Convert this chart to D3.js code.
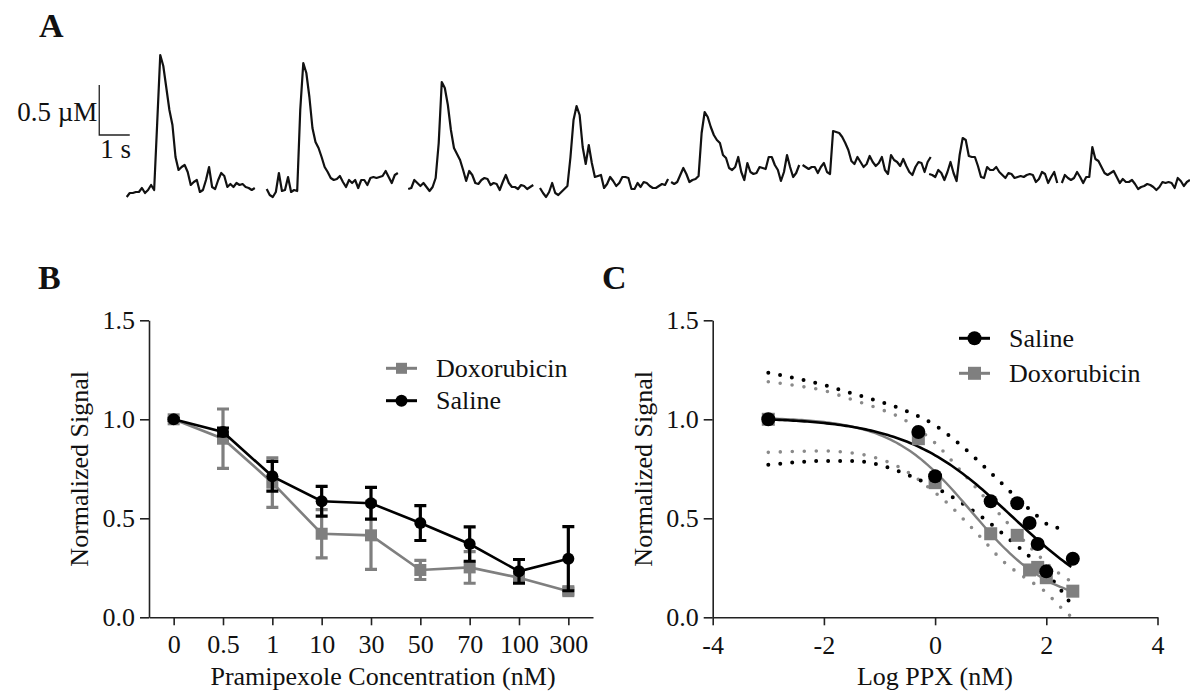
<!DOCTYPE html>
<html>
<head>
<meta charset="utf-8">
<script src="https://cdn.jsdelivr.net/npm/d3@7"></script>
<style>
  body { margin: 0; background: #fff; }
  svg { display: block; }
</style>
</head>
<body>
<div id="chart"></div>
<script>
// ---- Panel A: calcium traces (uM, sampled at 10 Hz) ----
const traceStarts = [0, 4.59, 9.23, 13.55, 17.85, 22.16, 26.31, 30.66]; // s
const trace1 = [0.03,0.07,0.07,0.08,0.08,0.12,0.07,0.10,0.15,0.10,0.77,1.45,1.34,1.12,0.90,0.75,0.43,0.30,0.33,0.35,0.28,0.15,0.18,0.20,0.08,0.10,0.20,0.33,0.13,0.11,0.20,0.27,0.24,0.13,0.16,0.13,0.17,0.15,0.16,0.13,0.12,0.10,0.12];
const trace2 = [0.11,0.05,0.03,0.08,0.27,0.09,0.10,0.23,0.08,0.10,0.09,0.90,1.37,1.27,1.03,0.72,0.58,0.52,0.43,0.33,0.28,0.22,0.20,0.21,0.24,0.18,0.13,0.20,0.17,0.20,0.12,0.20,0.20,0.15,0.22,0.23,0.22,0.23,0.24,0.29,0.23,0.17,0.25,0.27];
const trace3 = [0.11,0.12,0.20,0.17,0.14,0.17,0.13,0.09,0.13,0.22,0.57,1.18,1.12,0.95,0.70,0.52,0.46,0.40,0.30,0.19,0.29,0.25,0.17,0.16,0.20,0.22,0.21,0.15,0.17,0.16,0.10,0.18,0.25,0.17,0.13,0.13,0.11,0.15,0.14,0.11,0.13,0.15];
const trace4 = [0.12,0.07,0.03,0.08,0.17,0.07,0.05,0.08,0.11,0.14,0.43,0.80,0.94,0.85,0.53,0.36,0.55,0.37,0.23,0.24,0.25,0.12,0.16,0.23,0.19,0.14,0.17,0.23,0.23,0.22,0.11,0.11,0.17,0.13,0.18,0.17,0.14,0.12,0.12,0.14,0.16,0.15,0.21];
const trace5 = [0.18,0.16,0.18,0.25,0.32,0.26,0.18,0.20,0.21,0.24,0.67,0.88,0.83,0.73,0.65,0.60,0.57,0.45,0.42,0.32,0.30,0.33,0.43,0.28,0.20,0.37,0.28,0.26,0.27,0.33,0.32,0.31,0.43,0.43,0.35,0.30,0.19,0.28,0.45,0.33,0.23,0.27,0.35];
const trace6 = [0.35,0.33,0.31,0.33,0.33,0.27,0.33,0.37,0.28,0.26,0.69,0.68,0.67,0.63,0.57,0.50,0.39,0.36,0.43,0.38,0.33,0.36,0.44,0.38,0.34,0.37,0.43,0.30,0.26,0.45,0.40,0.38,0.34,0.41,0.34,0.28,0.25,0.33,0.38,0.37,0.28,0.38,0.43];
const trace7 = [0.26,0.25,0.23,0.30,0.27,0.20,0.28,0.38,0.27,0.19,0.45,0.62,0.60,0.44,0.43,0.43,0.34,0.23,0.22,0.33,0.30,0.30,0.33,0.28,0.25,0.22,0.27,0.26,0.22,0.23,0.24,0.23,0.25,0.26,0.25,0.18,0.21,0.28,0.26,0.17,0.23,0.28,0.17];
const trace8 = [0.17,0.25,0.22,0.20,0.22,0.28,0.23,0.17,0.23,0.23,0.53,0.41,0.39,0.33,0.27,0.25,0.27,0.29,0.23,0.17,0.21,0.18,0.18,0.20,0.16,0.11,0.13,0.14,0.16,0.15,0.13,0.10,0.13,0.18,0.17,0.18,0.17,0.12,0.22,0.19,0.14,0.18,0.20];
const traces = [trace1, trace2, trace3, trace4, trace5, trace6, trace7, trace8];
const sampleDt = 0.1;

// ---- Panel B: normalized signal vs pramipexole ----
const concLabels = ['0', '0.5', '1', '10', '30', '50', '70', '100', '300'];
const salineMean = [1.0, 0.936, 0.712, 0.586, 0.576, 0.476, 0.37, 0.232, 0.296];
const salineSem  = [0.005, 0.02, 0.075, 0.075, 0.08, 0.088, 0.087, 0.06, 0.162];
const doxMean    = [1.0, 0.902, 0.68, 0.422, 0.414, 0.239, 0.252, 0.2, 0.132];
const doxSem     = [0.005, 0.15, 0.125, 0.122, 0.172, 0.048, 0.08, 0.02, 0.015];
const yTicks = [0, 0.5, 1.0, 1.5];

// ---- Panel C: log dose-response fits ----
const logConc = [-3, -0.301, 0, 1, 1.477, 1.699, 1.845, 2, 2.477];
const cTicks = [-4, -2, 0, 2, 4];
// four-parameter logistic fits: [top, bottom, logIC50, hill]
const salineFit = [1.01, 0.0, 1.4, 0.45];
const doxFit    = [1.01, 0.06, 0.65, 0.6];
// 95% confidence bands [logx, value]
const salineUpper = [[-3,1.235],[-2.5,1.207],[-2,1.173],[-1.5,1.131],[-1,1.09],[-0.5,1.04],[0,0.97],[0.5,0.86],[1,0.73],[1.5,0.595],[1.8,0.52],[2.05,0.465],[2.2,0.452],[2.4,0.455]];
const salineLower = [[-3,0.77],[-2.5,0.783],[-2,0.79],[-1.5,0.79],[-1,0.77],[-0.5,0.72],[0,0.655],[0.3,0.609],[0.87,0.5],[1.44,0.369],[1.95,0.239],[2.2,0.16],[2.45,0.065]];
const doxUpper = [[-3,1.19],[-2.5,1.17],[-2,1.145],[-1.5,1.10],[-1,1.053],[-0.6,1.005],[0,0.88],[0.45,0.744],[0.92,0.596],[1.38,0.453],[1.83,0.32],[2.1,0.25],[2.45,0.18]];
const doxLower = [[-3,0.833],[-2.5,0.838],[-2,0.84],[-1.5,0.83],[-1.13,0.811],[-0.5,0.735],[-0.12,0.657],[0.24,0.572],[0.57,0.478],[0.9,0.38],[1.2,0.289],[1.59,0.205],[1.96,0.134],[2.29,0.042],[2.42,0.01]];

const W = 1190, H = 692;
const serif = '"Liberation Serif", "Times New Roman", Times, serif';
const grey = '#7f7f7f';
const axisCol = '#222';

const svg = d3.select('#chart').append('svg')
  .attr('width', W)
  .attr('height', H)
  .style('font-family', serif);

svg.append('rect').attr('width', W).attr('height', H).attr('fill', '#fff');

// panel letters
[['A', 39, 37], ['B', 38, 289], ['C', 602, 289]].forEach(([t, x, y]) => {
  svg.append('text').attr('x', x).attr('y', y).text(t)
    .attr('font-size', 34).attr('font-weight', 'bold').attr('fill', '#111');
});

// ===== Panel A =====
const xA = d3.scaleLinear().domain([0, 1]).range([126.7, 157.2]);
const yA = d3.scaleLinear().domain([0, 1]).range([200, 100]);
const traceLine = d3.line().x(d => xA(d[0])).y(d => yA(d[1]));

traces.forEach((tr, k) => {
  const pts = tr.map((v, i) => [traceStarts[k] + i * sampleDt, v]);
  svg.append('path')
    .datum(pts)
    .attr('d', traceLine)
    .attr('fill', 'none')
    .attr('stroke', '#111')
    .attr('stroke-width', 2.2)
    .attr('stroke-linejoin', 'round');
});

// scale bar 0.5 uM / 1 s
const sbT = -0.9, sbV = 0.65;
svg.append('path')
  .attr('d', `M${xA(sbT)},${yA(sbV + 0.5)}V${yA(sbV)}H${xA(sbT + 1)}`)
  .attr('fill', 'none').attr('stroke', '#222').attr('stroke-width', 1.3);
svg.append('text').attr('x', xA(sbT) - 2).attr('y', 121)
  .attr('text-anchor', 'end').attr('font-size', 27).attr('fill', '#111').text('0.5 \u00B5M');
svg.append('text').attr('x', xA(sbT) + 1).attr('y', 158)
  .attr('font-size', 27).attr('fill', '#111').text('1 s');

// ===== shared y axis =====
const yTop = 320.3, yBot = 617.3;
const yS = d3.scaleLinear().domain([0, 1.5]).range([yBot, yTop]);

function styleAxis(g) {
  g.select('.domain').attr('stroke', axisCol).attr('stroke-width', 1.6);
  g.selectAll('.tick line').attr('stroke', axisCol).attr('stroke-width', 1.6);
  g.selectAll('.tick text').attr('font-family', serif).attr('font-size', 26).attr('fill', '#111');
}

function yAxis(x0, title) {
  const g = svg.append('g').attr('transform', `translate(${x0},0)`)
    .call(d3.axisLeft(yS).tickValues(yTicks).tickFormat(d3.format('.1f'))
      .tickSize(9).tickSizeOuter(0).tickPadding(5));
  styleAxis(g);
  svg.append('text')
    .attr('transform', `translate(${x0 - 61},${(yTop + yBot) / 2}) rotate(-90)`)
    .attr('text-anchor', 'middle').attr('font-size', 26).attr('fill', '#111')
    .text(title);
}

// ===== Panel B =====
const xB = d3.scalePoint().domain(concLabels).range([149, 593]).padding(0.5);
yAxis(149, 'Normalized Signal');
const gxB = svg.append('g').attr('transform', `translate(0,${yBot})`)
  .call(d3.axisBottom(xB).tickSize(8).tickSizeOuter(0).tickPadding(9.5));
styleAxis(gxB);
svg.append('text').attr('x', 383).attr('y', 685).attr('text-anchor', 'middle')
  .attr('font-size', 26).attr('fill', '#111').text('Pramipexole Concentration (nM)');

function drawMarkers(g, xy, color, shape, r) {
  if (shape === 'circle') {
    g.selectAll('.mk').data(xy).enter().append('circle')
      .attr('cx', d => d[0]).attr('cy', d => d[1]).attr('r', r).attr('fill', color);
  } else {
    g.selectAll('.mk').data(xy).enter().append('rect')
      .attr('x', d => d[0] - r).attr('y', d => d[1] - r)
      .attr('width', 2 * r).attr('height', 2 * r).attr('fill', color);
  }
}

function drawSeriesB(mean, sem, color, shape) {
  const g = svg.append('g');
  const pts = concLabels.map((c, i) => ({ x: xB(c), m: mean[i], s: sem[i] }));
  g.append('path').datum(pts)
    .attr('d', d3.line().x(d => d.x).y(d => yS(d.m)))
    .attr('fill', 'none').attr('stroke', color).attr('stroke-width', 2.6);
  const eb = g.selectAll('.eb').data(pts).enter().append('g');
  eb.append('path')
    .attr('d', d => `M${d.x},${yS(d.m + d.s)}V${yS(d.m - d.s)}M${d.x - 6},${yS(d.m + d.s)}H${d.x + 6}M${d.x - 6},${yS(d.m - d.s)}H${d.x + 6}`)
    .attr('fill', 'none').attr('stroke', color).attr('stroke-width', 3.2);
  drawMarkers(g, pts.map(d => [d.x, yS(d.m)]), color, shape, 6);
}

drawSeriesB(doxMean, doxSem, grey, 'square');
drawSeriesB(salineMean, salineSem, '#000', 'circle');

function legend(x0, rows) {
  rows.forEach(r => {
    const g = svg.append('g');
    g.append('line').attr('x1', x0).attr('x2', x0 + 31).attr('y1', r.y).attr('y2', r.y)
      .attr('stroke', r.color).attr('stroke-width', 3);
    drawMarkers(g, [[x0 + 15.5, r.y]], r.color, r.shape, r.size);
    g.append('text').attr('x', x0 + 50).attr('y', r.y).attr('dy', '0.33em')
      .attr('font-size', 26).attr('fill', '#111').text(r.label);
  });
}
legend(386, [
  { y: 368.3, color: grey, shape: 'square', size: 5.5, label: 'Doxorubicin' },
  { y: 400.7, color: '#000', shape: 'circle', size: 6, label: 'Saline' }
]);

// ===== Panel C =====
const xC = d3.scaleLinear().domain([-4, 4]).range([712.7, 1157.5]);
yAxis(712.7, 'Normalized Signal');
const gxC = svg.append('g').attr('transform', `translate(0,${yBot})`)
  .call(d3.axisBottom(xC).tickValues(cTicks).tickFormat(d => String(d))
    .tickSize(8).tickSizeOuter(0).tickPadding(10));
styleAxis(gxC);
svg.append('text').attr('x', 935).attr('y', 685).attr('text-anchor', 'middle')
  .attr('font-size', 26).attr('fill', '#111').text('Log PPX (nM)');

const bandLine = d3.line().x(d => xC(d[0])).y(d => yS(d[1])).curve(d3.curveMonotoneX);
function band(data, color, w, gap) {
  svg.append('path').datum(data).attr('d', bandLine)
    .attr('fill', 'none').attr('stroke', color).attr('stroke-width', w)
    .attr('stroke-linecap', 'round').attr('stroke-dasharray', `0 ${gap}`);
}
band(doxUpper, '#8a8a8a', 3.6, 12);
band(doxLower, '#8a8a8a', 3.6, 12);
band(salineUpper, '#000', 4, 12);
band(salineLower, '#000', 4, 12);

function fitCurve(p, color, w) {
  const [top, bottom, c, h] = p;
  const xs = d3.range(-3, 2.477 + 1e-9, 0.05);
  const pts = xs.map(x => [x, bottom + (top - bottom) / (1 + Math.pow(10, h * (x - c)))]);
  svg.append('path').datum(pts)
    .attr('d', d3.line().x(d => xC(d[0])).y(d => yS(d[1])))
    .attr('fill', 'none').attr('stroke', color).attr('stroke-width', w);
}
fitCurve(doxFit, grey, 2.4);
fitCurve(salineFit, '#000', 2.6);

drawMarkers(svg.append('g'), logConc.map((x, i) => [xC(x), yS(doxMean[i])]), grey, 'square', 6.5);
drawMarkers(svg.append('g'), logConc.map((x, i) => [xC(x), yS(salineMean[i])]), '#000', 'circle', 7);

legend(959, [
  { y: 338.3, color: '#000', shape: 'circle', size: 7, label: 'Saline' },
  { y: 373.3, color: grey, shape: 'square', size: 6.5, label: 'Doxorubicin' }
]);
</script>
</body>
</html>
